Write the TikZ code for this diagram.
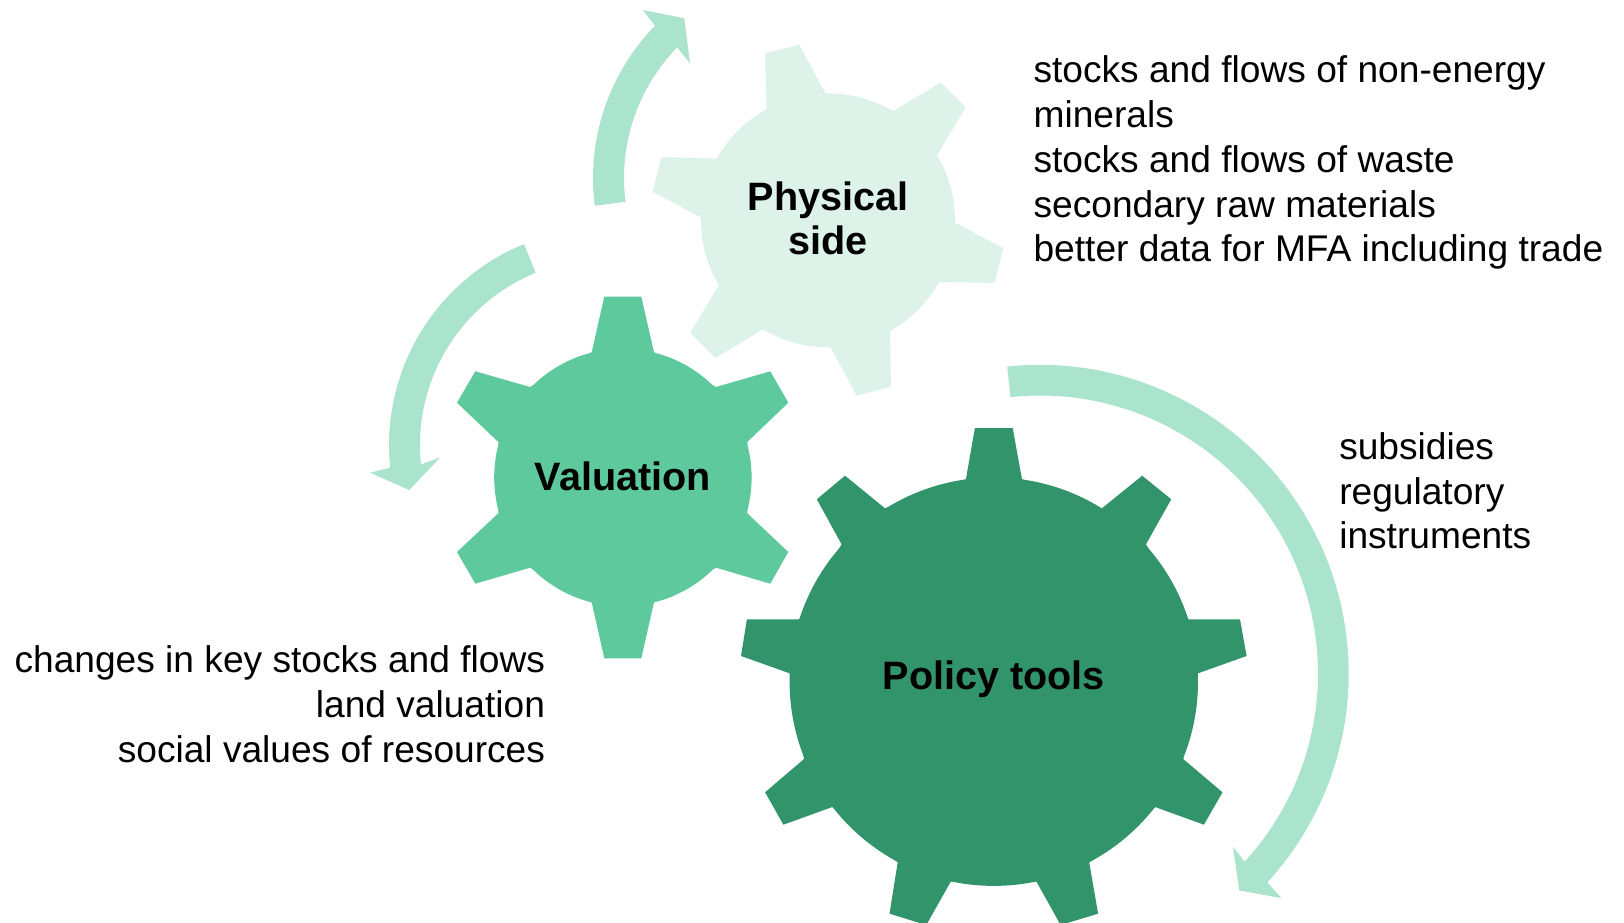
\documentclass[tikz,border=0pt]{standalone}
\usepackage{fontspec}
\setmainfont{Liberation Sans}
\definecolor{gearlight}{HTML}{DDF2E8}
\definecolor{gearmid}{HTML}{5FC99E}
\definecolor{geardark}{HTML}{32946B}
\definecolor{arrowfill}{HTML}{ABE4CC}
\tikzset{
  gearlabel/.style={anchor=base,inner sep=0pt,font=\fontsize{29.7pt}{29.7pt}\selectfont\bfseries,text=black},
  notetext/.style={inner sep=0pt,font=\fontsize{27.85pt}{27.85pt}\selectfont,text=black},
  noteleft/.style={notetext,anchor=base west},
  noteright/.style={notetext,anchor=base east}
}
\begin{document}
\begin{tikzpicture}[x=0.75pt,y=-0.75pt]
\useasboundingbox (0,0) rectangle (1624,923);
\clip (0,0) rectangle (1624,923);
\fill[white] (0,0) rectangle (1624,923);

% Physical side gear
\fill[gearlight] (828,220.3) circle[radius=127];
\fill[gearlight] (765,53.3) -- (799.3,44.7) -- (825.7,94) -- (893.3,111) -- (940.7,82.7) -- (965.7,107.3) -- (937,155.3) -- (954.3,222.3) -- (1003.3,248.3) -- (994.7,283) -- (938,282) -- (890,330) -- (891,386.7) -- (856.7,395.7) -- (830.3,346.7) -- (763.3,329) -- (715.3,358) -- (690.3,332.7) -- (719,285) -- (702,218) -- (652.7,191.7) -- (661.3,157) -- (718,158.7) -- (766.7,109.3) -- cycle;

% Valuation gear
\fill[gearmid] (622.9,477.5) circle[radius=128.7];
\fill[gearmid] (604.3,296.7) -- (641.3,296.7) -- (654,352.3) -- (716,387) -- (770.3,371.3) -- (788.3,402.7) -- (747.3,442) -- (747.3,513.3) -- (788.3,552) -- (770.3,583.7) -- (716,567.7) -- (654,602.3) -- (641.3,658.3) -- (604.3,658.3) -- (591.7,602.3) -- (530,567.7) -- (475.3,583.7) -- (457,552) -- (498.3,513.3) -- (498.3,442) -- (457,402.7) -- (475.3,371.3) -- (530,387) -- (591.7,352.3) -- cycle;

% Policy tools gear
\fill[geardark] (993.8,681.7) circle[radius=204.2];
\fill[geardark] (974.9,428) -- (1012.7,428) -- (1022,479.3) -- (1101.9,508.3) -- (1142.2,475.7) -- (1171.2,499.3) -- (1146,544.3) -- (1188.4,619.3) -- (1240,619.3) -- (1246.6,656) -- (1198,673.3) -- (1183.2,759) -- (1222.5,792.3) -- (1203.9,824.7) -- (1155,807) -- (1089.2,862.3) -- (1098.1,913.7) -- (1060.6,925) -- (1036.5,881.7) -- (950.7,881.7) -- (926.3,925) -- (889.5,913.7) -- (897.7,862.3) -- (832.3,807) -- (783.4,824.7) -- (765.1,792.3) -- (804,759) -- (789.6,673.3) -- (741,656) -- (746.9,619.3) -- (799.2,619.3) -- (841.6,544.3) -- (816.8,499.3) -- (845,475.7) -- (885,508.3) -- (965.9,479.3) -- cycle;

% Curved arrows
\fill[arrowfill] plot[domain=187.3:135.7,samples=40] ({811+218*cos(\x)},{178-218*sin(\x)})
  -- (642.7,10) -- (684.3,18.3) -- (690,63.3)
  -- plot[domain=135.7:187.3,samples=40] ({811+187*cos(\x)},{178-187*sin(\x)}) -- cycle;
\fill[arrowfill] plot[domain=112.2:186,samples=50] ({606+217*cos(\x)},{445-217*sin(\x)})
  -- (370,472.7) -- (409.3,490) -- (440.3,457.3)
  -- plot[domain=186:112.2,samples=50] ({606+186*cos(\x)},{445-186*sin(\x)}) -- cycle;
\fill[arrowfill] plot[domain=96.1:-42.6,samples=90] ({1040+308.7*cos(\x)},{673.5-308.7*sin(\x)})
  -- (1281.7,898.2) -- (1239.3,890.4) -- (1233,846.8)
  -- plot[domain=-42.6:96.1,samples=90] ({1040+278*cos(\x)},{673.5-278*sin(\x)}) -- cycle;

% Gear labels
\node[gearlabel] (physicalA) at (828.3,210.7) {Physical};
\node[gearlabel] (physicalB) at (828,255) {side};
\node[gearlabel] (valuation) at (622.8,490) {Valuation};
\node[gearlabel] (policy) at (993.8,689.3) {Policy tools};

% Notes
\node[noteleft] (ph1) at (1033.3,82.7) {stocks and flows of non-energy};
\node[noteleft] (ph2) at (1033.3,127.7) {minerals};
\node[noteleft] (ph3) at (1033.3,172.5) {stocks and flows of waste};
\node[noteleft] (ph4) at (1033.3,217.5) {secondary raw materials};
\node[noteleft] (ph5) at (1033.3,261.5) {better data for MFA including trade};
\node[noteleft] (po1) at (1339,459.5) {subsidies};
\node[noteleft] (po2) at (1339,504) {regulatory};
\node[noteleft] (po3) at (1339,548.5) {instruments};
\node[noteright] (va1) at (545.3,672.7) {changes in key stocks and flows};
\node[noteright] (va2) at (545.3,717.5) {land valuation};
\node[noteright] (va3) at (545.3,762.5) {social values of resources};
\end{tikzpicture}
\end{document}
